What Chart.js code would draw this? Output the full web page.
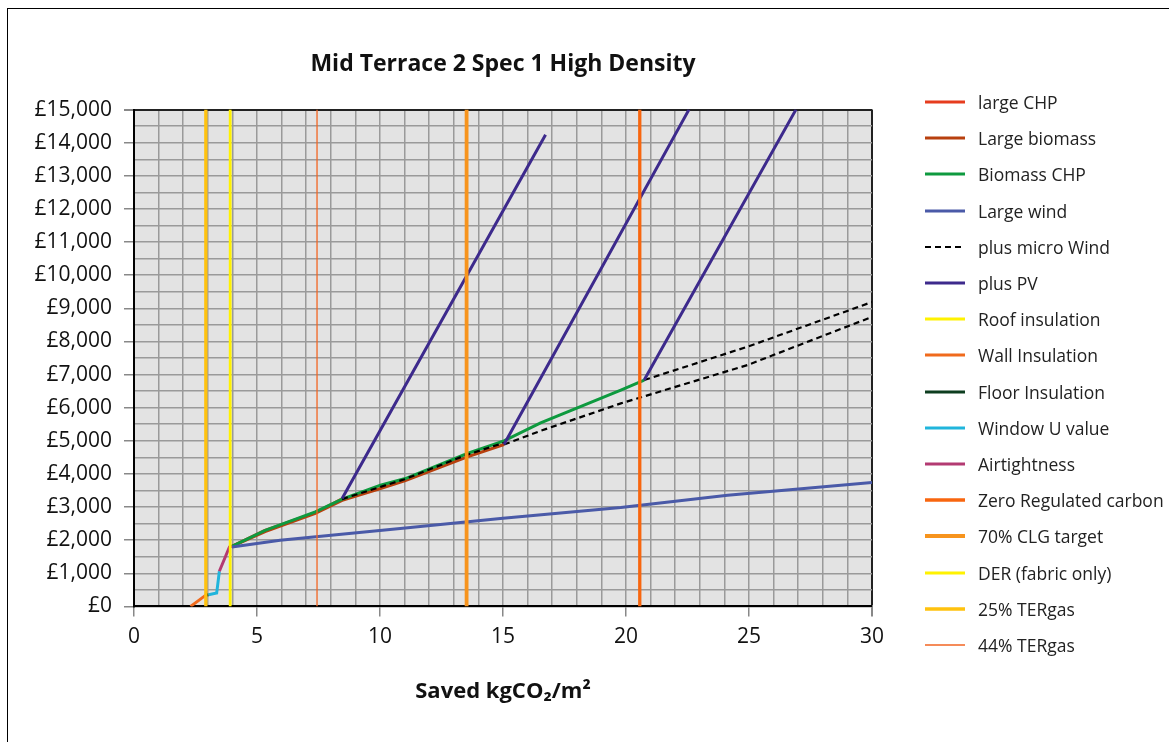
<!DOCTYPE html>
<html>
<head>
<meta charset="utf-8">
<script src="https://cdn.jsdelivr.net/npm/chart.js@4.4.1/dist/chart.umd.min.js"></script>
<style>
  html, body { margin: 0; padding: 0; background: #fff; overflow: hidden; font-family: 'Open Sans', sans-serif; }
  #frame { position: absolute; left: 7px; top: 8px; width: 1200px; height: 800px; border: 1px solid #000; }
  #wrap  { position: absolute; left: 8px; top: 9px; width: 884px; height: 733px; }
  #legend { position: absolute; left: 925px; top: 84px; margin: 0; padding: 0; list-style: none; }
  #legend li { height: 36.2px; display: flex; align-items: center; font-size: 17.5px; color: #222; white-space: nowrap; }
  #legend canvas { width: 40px; height: 10px; margin-right: 13px; }
</style>
</head>
<body>
<div id="frame"></div>
<div id="wrap"><canvas id="chart"></canvas></div>
<ul id="legend"></ul>
<script>
// ==================== DATA ====================
const seriesNames = [
  'large CHP', 'Large biomass', 'Biomass CHP', 'Large wind', 'plus micro Wind', 'plus PV',
  'Roof insulation', 'Wall Insulation', 'Floor Insulation', 'Window U value', 'Airtightness',
  'Zero Regulated carbon', '70% CLG target', 'DER (fabric only)', '25% TERgas', '44% TERgas'
];
const seriesColors = [
  '#e63c1e', '#b8400e', '#0e9a3f', '#4a5aa8', '#000000', '#3d2a8c',
  '#fff200', '#f06a1c', '#0d3d1f', '#20b5dc', '#b33a72',
  '#f8660f', '#f7941d', '#fff200', '#ffc20e', '#f26522'
];

// x = saved kgCO2/m2, y = cost (£); null breaks a line
const largeChpX     = [3.98, 5.30, 7.40, 8.46];
const largeChpY     = [1814, 2290, 2840, 3250];
const largeBiomassX = [3.98, 5.33, 7.37, 8.46, 10.02, 11.03, 13.55, 15.04];
const largeBiomassY = [1814, 2260, 2810, 3200, 3560, 3800, 4515, 4888];
const biomassChpX   = [3.98, 5.33, 7.37, 8.46, 10.02, 11.03, 13.55, 15.04, 16.53, 19.79, 20.74];
const biomassChpY   = [1814, 2298, 2852, 3240, 3659, 3861, 4617, 4999, 5543, 6532, 6834];
const largeWindX    = [3.98, 5.94, 11.03, 15.00, 19.79, 24.13, 30.00];
const largeWindY    = [1794, 1996, 2368, 2660, 2985, 3356, 3740];
const microWindX    = [8.46, 11.00, 13.50, 15.04, null, 15.04, 16.53, 19.79, 24.94, 30.00, null, 20.74, 24.94, 30.00];
const microWindY    = [3240, 3840, 4570, 4940, null, 4888, 5301, 6129, 7288, 8740, null, 6834, 7841, 9190];
const pvX           = [8.46, 16.73, null, 15.04, 22.56, null, 20.74, 26.91];
const pvY           = [3256, 14243, null, 4888, 15000, null, 6834, 15000];
const roofX         = [];
const roofY         = [];
const wallX         = [2.30, 2.92];
const wallY         = [0, 340];
const floorX        = [2.92, 3.03];
const floorY        = [340, 354];
const windowX       = [3.03, 3.36, 3.40, 3.47];
const windowY       = [354, 402, 635, 1060];
const airX          = [3.47, 3.88, 3.98];
const airY          = [1060, 1793, 1814];
const zeroCarbonX   = [20.56, 20.56];
const clgX          = [13.52, 13.52];
const derX          = [3.91, 3.91];
const ter25X        = [2.92, 2.92];
const ter44X        = [7.44, 7.44];
const fullHeightY   = [0, 15000];

const seriesX = [largeChpX, largeBiomassX, biomassChpX, largeWindX, microWindX, pvX,
  roofX, wallX, floorX, windowX, airX, zeroCarbonX, clgX, derX, ter25X, ter44X];
const seriesY = [largeChpY, largeBiomassY, biomassChpY, largeWindY, microWindY, pvY,
  roofY, wallY, floorY, windowY, airY, fullHeightY, fullHeightY, fullHeightY, fullHeightY, fullHeightY];
const seriesWidth = [3, 3, 3, 3, 2.2, 3, 3, 3, 3, 3, 3, 3.3, 3.8, 2.8, 3.3, 1.3];

const xTicks = [0, 5, 10, 15, 20, 25, 30];
const yMax = 15000;

// ==================== CHART ====================
Chart.defaults.font.family = "'Open Sans', sans-serif";
Chart.defaults.color = '#111';

const plotBg = {
  id: 'plotBg',
  beforeDraw(chart) {
    const {ctx, chartArea: a} = chart;
    ctx.save();
    ctx.fillStyle = '#e3e3e3';
    ctx.fillRect(a.left, a.top, a.width, a.height);
    ctx.restore();
  }
};

// legend drawn as html next to the canvas, built from the chart's own legend items
const htmlLegend = {
  id: 'htmlLegend',
  afterUpdate(chart) {
    const ul = document.getElementById('legend');
    ul.innerHTML = '';
    const items = Chart.defaults.plugins.legend.labels.generateLabels(chart)
      .sort((a, b) => a.datasetIndex - b.datasetIndex);
    items.forEach(it => {
      const li = document.createElement('li');
      const cv = document.createElement('canvas');
      cv.width = 40; cv.height = 10;
      const c = cv.getContext('2d');
      c.strokeStyle = it.strokeStyle;
      c.lineWidth = it.lineWidth;
      c.setLineDash(it.lineDash || []);
      c.beginPath(); c.moveTo(0, 5); c.lineTo(40, 5); c.stroke();
      li.appendChild(cv);
      li.appendChild(document.createTextNode(it.text));
      ul.appendChild(li);
    });
  }
};

const datasets = seriesNames.map((name, i) => ({
  label: name,
  data: seriesX[i].map((x, j) => ({x, y: seriesY[i][j]})),
  borderColor: seriesColors[i],
  backgroundColor: seriesColors[i],
  borderWidth: seriesWidth[i],
  borderDash: name === 'plus micro Wind' ? [6, 4] : [],
  showLine: true,
  pointRadius: 0,
  order: -i
}));

new Chart(document.getElementById('chart'), {
  type: 'scatter',
  data: { datasets },
  plugins: [plotBg, htmlLegend],
  options: {
    responsive: true, maintainAspectRatio: false, animation: false,
    layout: { padding: { right: 20 } },
    plugins: {
      tooltip: { enabled: false },
      legend: { display: false },
      title: {
        display: true, fullSize: false,
        text: 'Mid Terrace 2 Spec 1 High Density',
        font: { size: 23, weight: 'bold' }, color: '#111',
        padding: { top: 42, bottom: 31 }
      }
    },
    scales: {
      x: {
        type: 'linear', min: 0, max: 30,
        border: { color: '#000', width: 2 },
        grid: {
          color: c => c.tick && c.tick.value === 30 ? '#222' : '#9a9a9a',
          lineWidth: c => c.tick && c.tick.value === 30 ? 2 : 1.5,
          tickLength: 10,
          tickColor: c => xTicks.includes(c.tick.value) ? '#888' : 'rgba(0,0,0,0)'
        },
        ticks: {
          stepSize: 1, autoSkip: false, maxRotation: 0, padding: 8,
          font: { size: 21 }, color: '#111',
          callback: v => xTicks.includes(v) ? String(v) : ''
        },
        title: {
          display: true, text: 'Saved kgCO\u2082/m\u00b2', color: '#111',
          font: { size: 22, weight: 'bold' },
          padding: { top: 21, bottom: 37 }
        }
      },
      y: {
        type: 'linear', min: 0, max: yMax,
        border: { color: '#000', width: 2 },
        grid: {
          color: c => c.tick && c.tick.value === yMax ? '#222' : '#9a9a9a',
          lineWidth: c => c.tick && c.tick.value === yMax ? 2 : 1.5,
          tickLength: 10,
          tickColor: c => c.tick.value % 1000 === 0 ? '#888' : 'rgba(0,0,0,0)'
        },
        ticks: {
          stepSize: 500, autoSkip: false, padding: 12,
          font: { size: 21 }, color: '#111',
          callback: v => v % 1000 === 0 ? '\u00a3' + v.toLocaleString('en-GB') : ''
        },
        afterFit: s => { s.width = 126; }
      }
    }
  }
});
</script>
</body>
</html>
